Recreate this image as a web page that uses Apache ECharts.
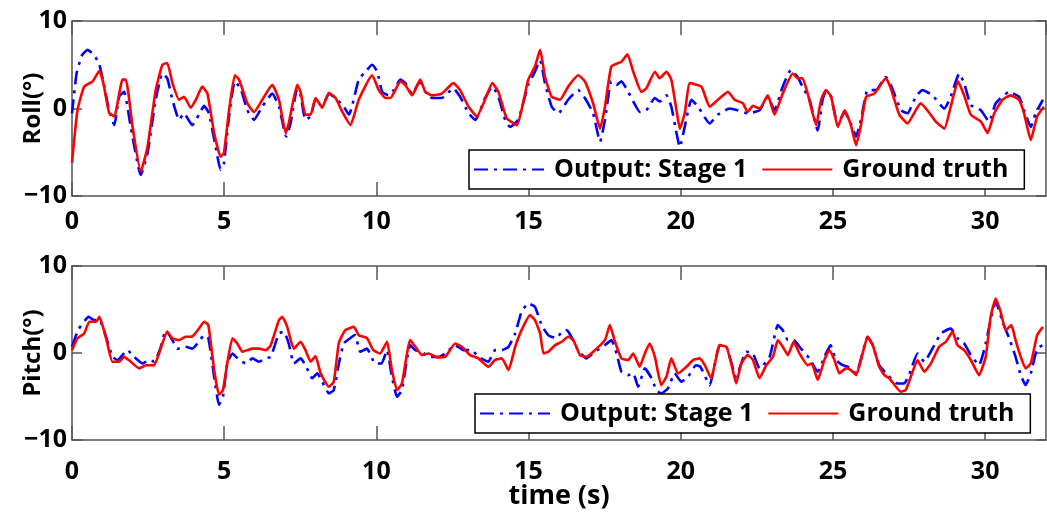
<!DOCTYPE html>
<html>
<head>
<meta charset="utf-8">
<script src="https://cdn.jsdelivr.net/npm/echarts@6/dist/echarts.min.js"></script>
<style>html,body{margin:0;padding:0;background:#fff}#c{width:1047px;height:518px}</style>
</head>
<body>
<div id="c"></div>
<script>
var seriesNames = ['Output: Stage 1', 'Ground truth'];
var xTicks = [0, 5, 10, 15, 20, 25, 30];
var yTicks = [-10, 0, 10];

var rollOutT = [0,0.15,0.33,0.51,0.73,0.9,1.06,1.22,1.39,1.55,1.71,1.93,2.26,2.48,2.75,2.97,3.13,3.3,3.52,3.68,3.95,4.17,4.34,4.5,4.72,4.88,4.99,5.16,5.35,5.54,5.76,5.98,6.25,6.58,6.8,7.04,7.18,7.4,7.51,7.67,7.84,8.0,8.22,8.44,8.66,8.93,9.1,9.42,9.64,9.86,10.03,10.19,10.4,10.57,10.79,10.95,11.17,11.44,11.61,11.82,12.15,12.53,12.75,13.03,13.25,13.57,13.81,14.01,14.23,14.39,14.66,14.99,15.21,15.38,15.54,15.76,15.98,16.3,16.63,16.85,17.12,17.35,17.51,17.72,17.89,18.05,18.21,18.44,18.66,18.87,19.15,19.31,19.53,19.69,19.86,19.97,20.13,20.35,20.57,20.95,21.22,21.6,21.87,22.2,22.59,22.86,23.08,23.35,23.62,23.84,24.0,24.23,24.5,24.66,24.77,24.94,25.16,25.38,25.59,25.76,25.92,26.14,26.41,26.74,26.9,27.24,27.45,27.72,27.94,28.27,28.66,28.87,29.15,29.31,29.53,29.86,30.13,30.35,30.79,31.11,31.28,31.5,31.66,31.9];
var rollOutV = [-0.55,4.0,6.1,6.7,6.1,5.0,2.5,-0.2,-1.9,1.35,1.9,-2.1,-7.6,-5.1,1.0,4.0,3.45,1.0,-1.3,-0.55,-1.9,-0.7,0.3,-0.55,-4.4,-7.0,-6.3,-0.9,3.1,2.3,-0.2,-1.3,0.2,1.7,0.2,-3.2,-1.7,2.3,1.5,-1.3,-0.9,1.0,0.2,1.7,1.2,0.2,-0.7,3.3,4.2,5.0,4.2,1.9,1.5,2.1,3.3,2.9,1.7,3.1,1.9,1.2,1.2,2.3,1.35,-0.55,-1.3,1.2,2.5,1.35,-1.3,-2.1,-1.3,2.7,4.2,5.5,2.9,0.2,-0.55,1.0,2.1,1.2,-0.55,-3.8,-1.3,3.1,2.7,3.1,2.3,0.8,-0.4,-0.2,1.2,0.8,1.5,0.2,-2.8,-4.4,-2.1,1.0,0.2,-1.7,-0.7,0,-0.2,-0.55,-0.2,1.35,-0.2,2.5,4.4,3.6,2.5,1.0,-2.5,1.0,1.9,1.35,-1.9,-0.4,-1.7,-3.2,-1.3,2.1,2.1,3.6,2.7,-0.2,-0.55,1.35,2.1,1.5,0,1.35,4.0,2.9,0.4,-0.2,-1.5,0.6,1.9,1.35,-0.2,-2.1,-0.55,1.0];

var rollTruthT = [0,0.18,0.4,0.68,0.9,1.03,1.22,1.39,1.66,1.77,1.99,2.26,2.48,2.75,2.97,3.13,3.3,3.52,3.68,3.9,4.07,4.28,4.45,4.67,4.88,4.99,5.16,5.35,5.49,5.76,5.98,6.25,6.58,6.8,7.02,7.12,7.4,7.51,7.67,7.84,8.0,8.22,8.44,8.66,8.87,9.15,9.42,9.86,10.08,10.3,10.46,10.79,10.95,11.17,11.44,11.61,11.82,12.15,12.53,12.75,13.03,13.3,13.57,13.81,14.01,14.28,14.61,14.99,15.21,15.38,15.54,15.76,16.03,16.3,16.63,16.85,17.12,17.35,17.51,17.72,18.05,18.25,18.44,18.71,18.87,19.15,19.31,19.53,19.69,19.86,19.97,20.13,20.3,20.68,20.95,21.22,21.55,21.77,22.04,22.2,22.37,22.59,22.86,23.08,23.35,23.68,23.84,24.0,24.17,24.45,24.61,24.77,24.94,25.16,25.38,25.59,25.76,25.92,26.09,26.36,26.74,26.9,27.18,27.45,27.72,27.88,28.1,28.38,28.66,28.87,29.11,29.31,29.53,29.86,30.08,30.3,30.57,30.84,31.11,31.28,31.5,31.71,31.93];
var rollTruthV = [-6.2,-0.2,2.5,3.1,4.3,2.9,-0.5,-0.9,3.3,3.3,-2.1,-7.2,-4.4,2.1,5.0,5.2,2.9,1.0,1.35,0.1,1.0,2.5,1.7,-2.8,-5.5,-5.1,-0.2,3.8,3.3,0.6,-0.4,1.0,2.7,1.0,-2.8,-1.7,2.7,1.9,-0.7,-0.7,1.2,0.1,1.8,1.2,-0.3,-1.9,1.0,3.8,2.1,1.2,1.2,3.1,2.7,1.5,3.3,1.9,1.5,1.7,2.9,2.1,0.2,-0.9,1.0,2.9,1.9,-1.1,-1.9,3.3,4.8,6.7,3.6,1.35,1.0,2.5,3.8,3.1,0.6,-2.3,0.2,4.8,5.35,6.2,4.2,1.9,2.3,4.2,3.45,4.2,3.3,-0.2,-2.3,-0.55,2.9,2.5,0.2,1.0,1.9,1.0,0.6,-0.4,0.3,0.0,1.5,-0.7,1.7,4.0,3.45,3.45,1.7,-1.9,1.0,2.1,1.35,-2.1,-0.2,-1.9,-4.2,-1.9,1.35,1.7,3.45,2.3,-0.7,-1.7,-0.2,0.6,-0.2,-1.5,-2.3,0.2,3.1,1.5,-0.7,-1.5,-2.8,-0.55,1.0,1.5,1.0,-0.55,-3.6,-0.9,0.2];

var pitchOutT = [0,0.2,0.55,0.73,0.9,1.12,1.33,1.5,1.82,2.04,2.32,2.54,2.7,2.92,3.08,3.3,3.46,3.73,3.95,4.17,4.34,4.48,4.67,4.83,4.96,5.1,5.27,5.49,5.71,5.93,6.15,6.37,6.53,6.8,6.96,7.12,7.29,7.51,7.67,7.89,8.06,8.22,8.44,8.6,8.77,8.93,9.2,9.3,9.47,9.69,9.96,10.17,10.35,10.51,10.68,10.84,11.11,11.28,11.5,11.72,12.04,12.26,12.59,12.86,13.14,13.35,13.68,13.9,14.12,14.34,14.56,14.77,14.99,15.21,15.43,15.65,15.92,16.09,16.25,16.41,16.63,16.9,17.18,17.51,17.72,17.89,18.05,18.27,18.44,18.6,18.82,19.04,19.2,19.36,19.58,19.8,20.02,20.24,20.5,20.65,20.95,21.28,21.5,21.82,22.15,22.37,22.59,22.92,23.19,23.35,23.52,23.71,23.95,24.23,24.5,24.72,24.92,25.1,25.32,25.49,25.76,26.14,26.31,26.52,26.8,27.12,27.34,27.5,27.78,28.0,28.27,28.55,28.87,29.09,29.31,29.53,29.8,30.02,30.18,30.35,30.57,30.79,31.0,31.17,31.33,31.5,31.71,31.9];
var pitchOutV = [0.71,2.63,4.15,3.78,3.78,1.86,-0.44,-0.8,0.33,-0.44,-1.2,-0.8,-1.0,0.71,2.63,1.48,0.5,0.71,0.5,1.29,2.05,1.7,-2.73,-5.97,-5.0,-1.2,-0.05,-0.8,-1.2,-0.62,-1.0,-0.62,-0.44,2.25,2.43,1.1,-1.2,-0.62,-1.4,-2.9,-2.34,-3.3,-4.64,-4.26,-1.2,1.1,1.86,2.05,0.14,0.5,-1.2,-1.2,0.33,-2.73,-5.03,-4.26,0.9,0.33,0.14,-0.44,-0.44,-0.05,0.9,0.33,0.33,-0.44,-1.0,0.33,0.33,0.71,2.25,4.73,5.7,5.3,3.2,2.05,1.7,2.43,2.63,1.86,0.33,-0.62,0.14,0.9,1.48,-0.05,-2.15,-2.54,-2.34,-3.88,-1.77,-2.9,-4.26,-4.64,-4.07,-2.34,-3.3,-2.73,-1.4,-1.6,-3.69,0.9,0.71,-2.73,0.14,-0.05,-1.77,-0.44,3.2,2.63,1.48,1.48,0.5,-0.62,-2.15,-0.44,0.9,-0.8,-1.4,-1.58,-2.34,1.86,0.9,-1.4,-2.54,-3.5,-3.5,-2.54,-0.05,-1.0,0.5,2.25,2.8,1.7,1.1,-0.24,-1.4,1.1,3.78,5.88,3.6,1.7,-0.44,-2.54,-3.69,-2.34,0.5,0.9];

var pitchTruthT = [0,0.18,0.4,0.57,0.79,0.9,1.12,1.33,1.55,1.71,1.93,2.21,2.43,2.7,2.86,3.13,3.3,3.52,3.73,3.95,4.17,4.34,4.48,4.67,4.83,4.96,5.1,5.27,5.43,5.6,5.76,5.93,6.15,6.37,6.53,6.8,6.91,7.07,7.29,7.51,7.67,7.84,8.0,8.17,8.44,8.6,8.77,8.98,9.26,9.42,9.69,9.9,10.12,10.35,10.51,10.68,10.84,11.11,11.28,11.5,11.72,11.99,12.26,12.59,12.81,13.08,13.35,13.68,13.9,14.12,14.34,14.56,14.77,15.05,15.21,15.38,15.49,15.65,15.87,16.09,16.3,16.47,16.69,16.9,17.18,17.51,17.67,17.84,18.05,18.27,18.44,18.65,18.82,18.98,19.15,19.36,19.53,19.69,19.91,20.19,20.41,20.62,20.79,21.0,21.28,21.5,21.66,21.82,21.99,22.2,22.37,22.59,22.81,23.03,23.19,23.35,23.52,23.71,23.9,24.17,24.3,24.5,24.72,24.88,25.05,25.21,25.43,25.59,25.76,25.92,26.14,26.31,26.52,26.69,26.85,27.07,27.23,27.39,27.56,27.78,28.0,28.22,28.49,28.71,28.93,29.09,29.31,29.53,29.8,30.02,30.18,30.35,30.51,30.68,30.86,31.0,31.17,31.33,31.5,31.71,31.9];
var pitchTruthV = [0.33,1.7,2.25,3.6,3.6,4.15,1.7,-1.0,-1.0,-0.44,-1.0,-1.77,-1.4,-1.4,-0.05,2.43,1.7,1.48,1.86,1.9,2.8,3.6,3.2,-1.96,-4.8,-4.26,-1.2,1.7,1.1,0.14,0.33,0.5,0.5,0.33,0.9,3.78,4.15,3.0,0.5,1.29,0.33,-1.0,-0.36,-2.34,-3.88,-3.3,1.2,2.63,3.0,2.05,1.7,0.33,-0.05,1.29,-1.96,-4.26,-3.5,1.48,0.71,-0.24,-0.05,-0.5,-0.44,1.1,0.71,-0.24,-0.62,-1.58,-0.8,-0.62,-1.96,0.71,2.63,4.35,3.78,2.25,-0.05,0.14,0.9,1.29,1.86,1.48,-0.24,-0.44,0.33,1.48,3.2,1.29,-0.62,-0.8,-0.05,-1.58,-0.05,1.1,-0.44,-3.69,-2.73,-0.62,-2.34,-1.58,-0.8,-0.62,-1.4,-2.9,0.9,0.71,-1.2,-3.5,-1.2,-0.24,-0.8,-2.9,-1.4,-0.44,1.48,0.71,-0.24,1.29,-0.05,-1.4,-1.2,-3.1,-0.8,0.33,-0.8,-2.34,-1.77,-1.96,-2.54,-0.8,1.86,0.9,-1.58,-2.54,-2.9,-3.88,-4.45,-4.26,-2.73,-0.8,-2.15,-1.2,0.71,1.29,2.43,0.9,0.33,-0.8,-2.54,-0.44,4.15,6.27,4.73,2.63,3.2,1.48,-0.44,-1.77,-1.2,2.05,3.0];

function zip(t, v) { return t.map(function (x, i) { return [x, v[i]]; }); }

var FONT = '"Open Sans", "Liberation Sans", sans-serif';
var AX = '#555';
var grids = [
  { left: 72, right: 1, top: 21, height: 175 },
  { left: 72, right: 1, top: 266, height: 174 }
];

function xAx(g, pos, labels, margin) {
  return {
    type: 'value', gridIndex: g, position: pos, min: 0, max: 32, interval: 5,
    axisLine: { show: true, onZero: false, lineStyle: { color: AX, width: 1.5 } },
    axisTick: { show: true, inside: true, length: 14, lineStyle: { color: AX, width: 1.5 } },
    splitLine: { show: false },
    axisLabel: {
      show: labels, margin: margin, color: '#000', fontFamily: FONT, fontWeight: 'bold', fontSize: 25,
      showMaxLabel: false,
      formatter: function (v) { return xTicks.indexOf(v) >= 0 ? String(v) : ''; }
    }
  };
}
function yAx(g, pos, labels, name) {
  return {
    type: 'value', gridIndex: g, position: pos, min: -10, max: 10, interval: 10,
    name: name, nameLocation: 'middle', nameGap: 27, nameMoveOverlap: false,
    nameTextStyle: { color: '#000', fontFamily: FONT, fontWeight: 'bold', fontSize: 24 },
    axisLine: { show: true, onZero: false, lineStyle: { color: AX, width: 1.5 } },
    axisTick: { show: true, inside: true, length: 10, lineStyle: { color: AX, width: 1.5 } },
    splitLine: { show: false },
    axisLabel: {
      show: labels, margin: 5, color: '#000', fontFamily: FONT, fontWeight: 'bold', fontSize: 25,
      formatter: function (v) { return yTicks.indexOf(v) >= 0 ? String(v).replace('-', '\u2212') : ''; }
    }
  };
}

var xb0 = xAx(0, 'bottom', true, 13);
var xb1 = xAx(1, 'bottom', true, 19);
xb1.name = 'time (s)';
xb1.nameLocation = 'middle';
xb1.nameGap = 43;
xb1.nameMoveOverlap = false;
xb1.nameTextStyle = { color: '#000', fontFamily: FONT, fontWeight: 'bold', fontSize: 27 };

function legendAt(left, top) {
  return {
    data: seriesNames, left: left, top: top, orient: 'horizontal',
    itemWidth: 70, itemHeight: 14, itemGap: 14,
    padding: [7, 16, 7, 4],
    borderColor: '#000', borderWidth: 1.5, backgroundColor: '#fff',
    itemStyle: { opacity: 0 },
    textStyle: { color: '#000', fontFamily: FONT, fontWeight: 'bold', fontSize: 25, padding: [0, 0, 0, 5] },
    selectedMode: false
  };
}

function lineSeries(name, data, xi, yi) {
  var isOut = name === seriesNames[0];
  return {
    name: name, type: 'line', xAxisIndex: xi, yAxisIndex: yi, data: data,
    showSymbol: false, symbol: 'none', smooth: 0.15, animation: false,
    lineStyle: isOut ? { color: '#0000ff', width: 2.6, type: [14, 6, 3, 6] } : { color: '#ff0000', width: 2.6, type: 'solid' },
    itemStyle: { color: isOut ? '#0000ff' : '#ff0000' },
    z: isOut ? 2 : 3
  };
}

var option = {
  backgroundColor: '#fff',
  animation: false,
  grid: grids.map(function (g) { return Object.assign({ show: false, containLabel: false, outerBoundsMode: 'none' }, g); }),
  xAxis: [xb0, xAx(0, 'top', false, 8), xb1, xAx(1, 'top', false, 8)],
  yAxis: [yAx(0, 'left', true, 'Roll(°)'), yAx(0, 'right', false, ''), yAx(1, 'left', true, 'Pitch(°)'), yAx(1, 'right', false, '')],
  legend: [legendAt(469, 150), legendAt(475, 394)],
  series: [
    lineSeries(seriesNames[0], zip(rollOutT, rollOutV), 0, 0),
    lineSeries(seriesNames[1], zip(rollTruthT, rollTruthV), 0, 0),
    lineSeries(seriesNames[0], zip(pitchOutT, pitchOutV), 2, 2),
    lineSeries(seriesNames[1], zip(pitchTruthT, pitchTruthV), 2, 2)
  ]
};

var chart = echarts.init(document.getElementById('c'), null, { renderer: 'canvas' });
chart.setOption(option);
</script>
</body>
</html>
